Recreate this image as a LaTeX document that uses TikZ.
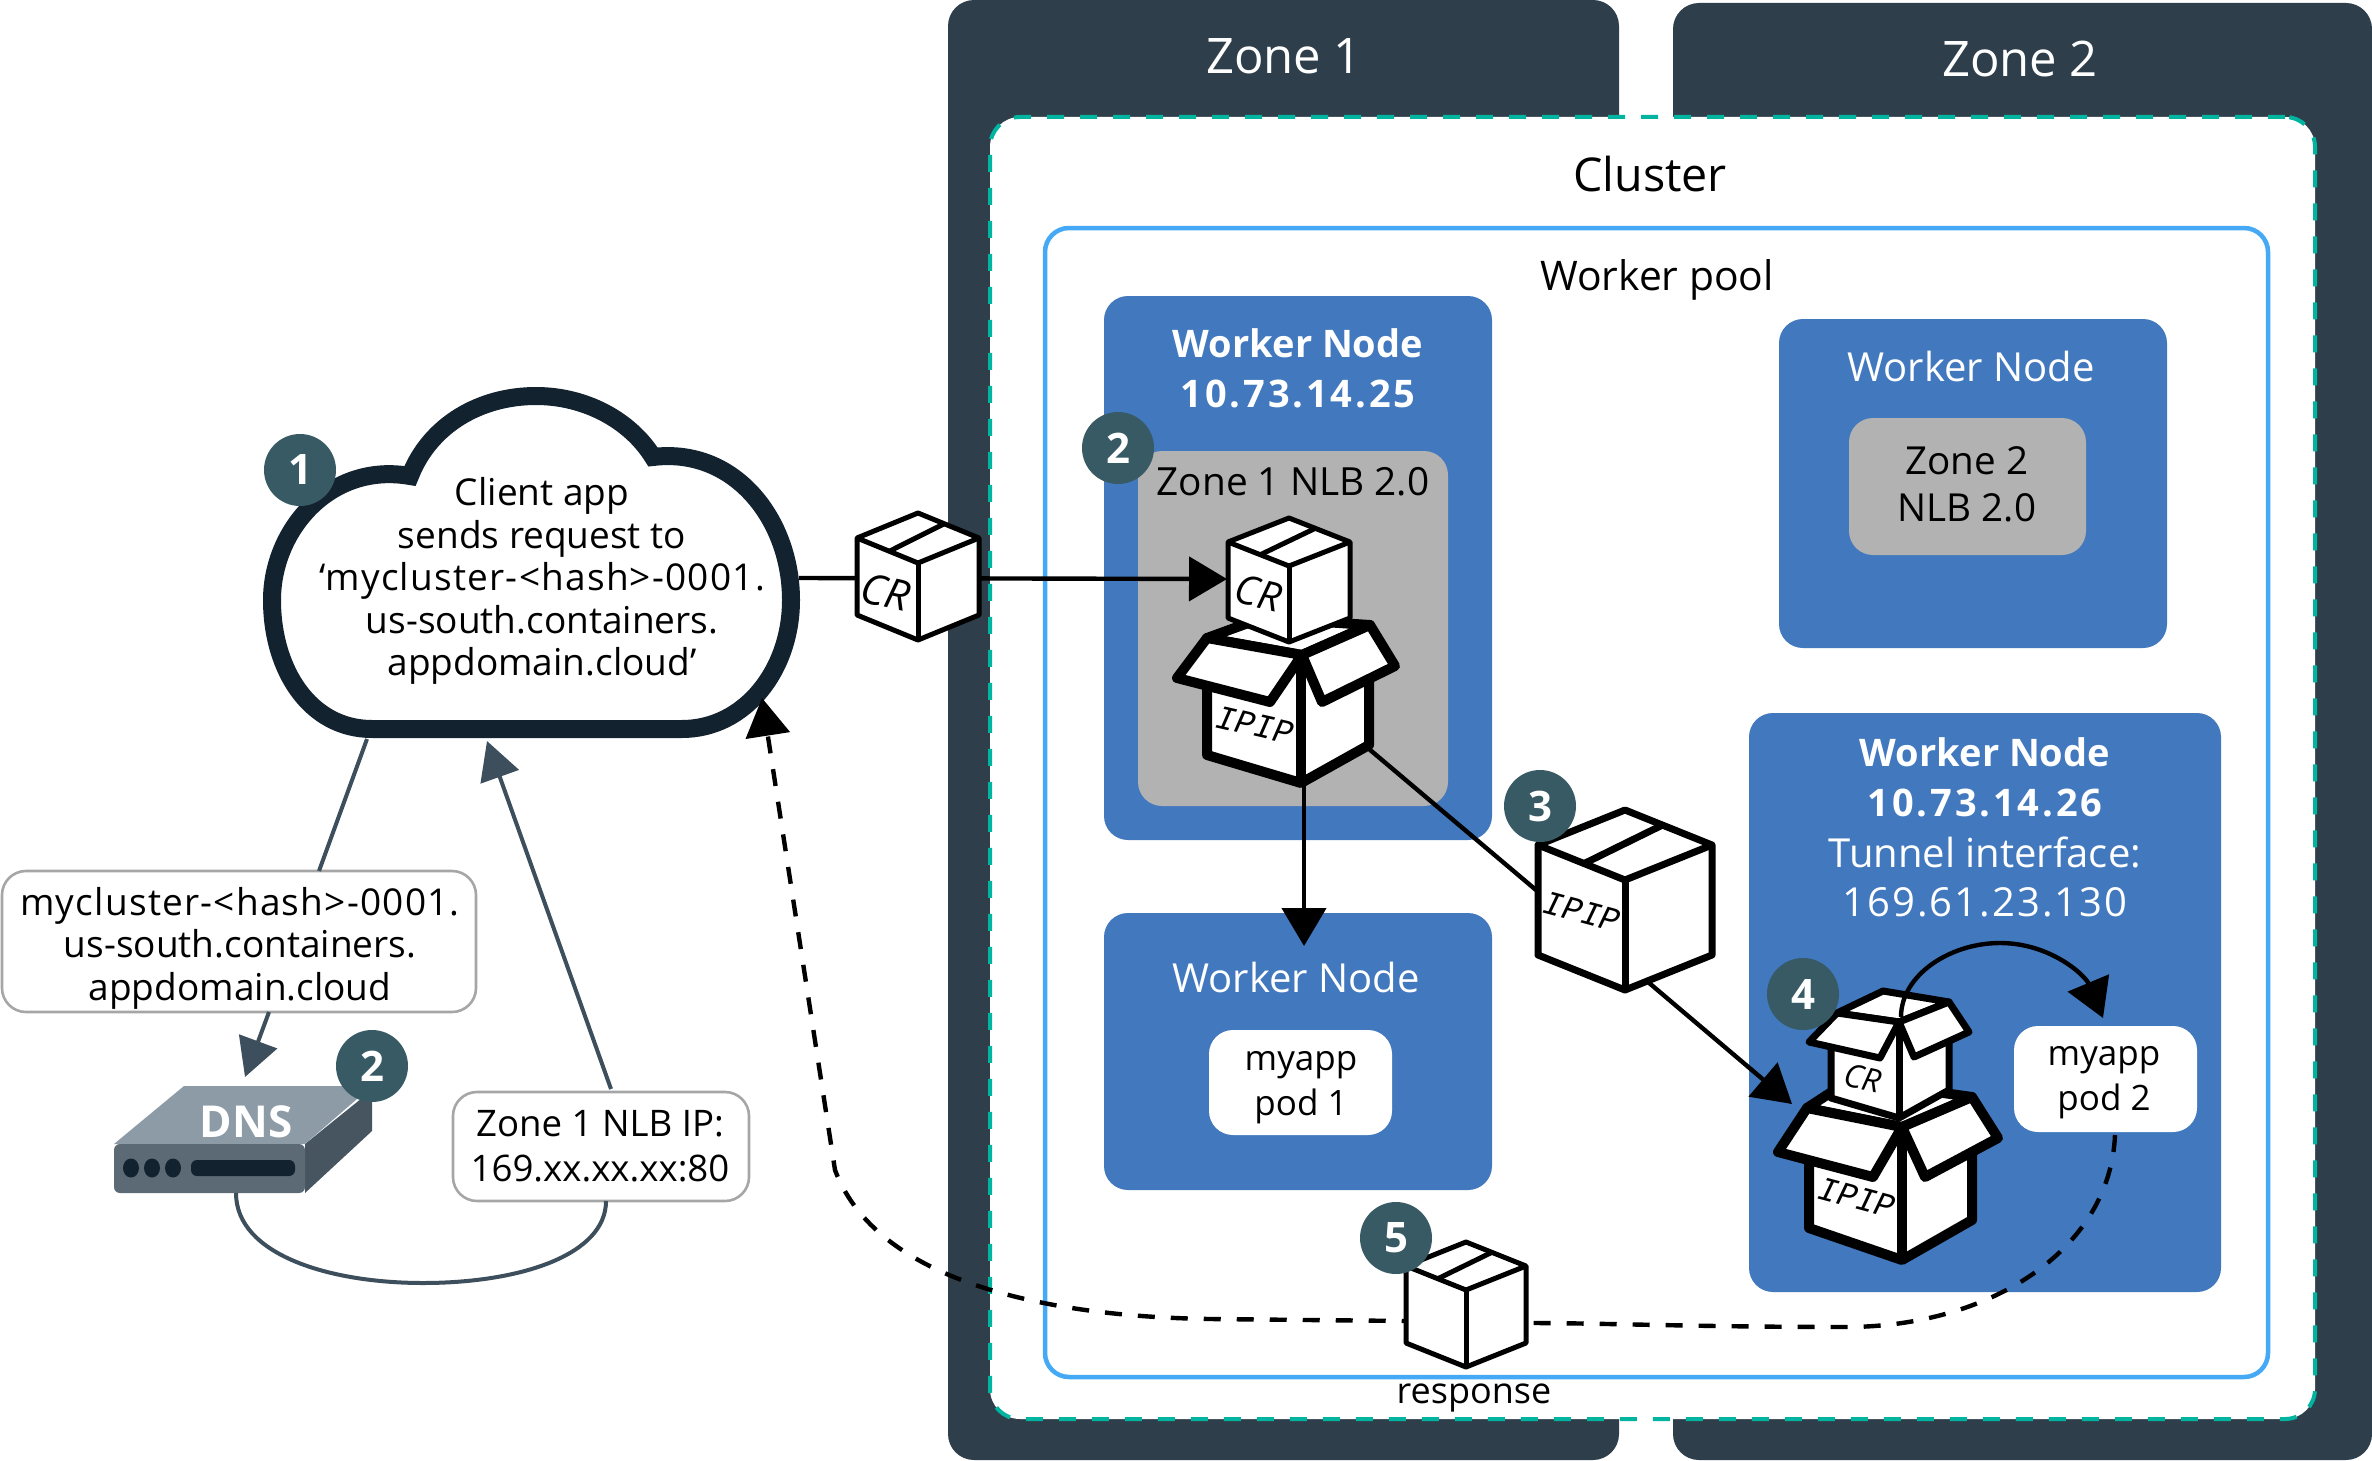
\documentclass[tikz,border=0pt]{standalone}
\usepackage{fontspec}
\setmainfont{Open Sans}
\newfontfamily\ipipfont{Liberation Mono}
\usetikzlibrary{arrows.meta}
\definecolor{zonec}{HTML}{2E3F4B}
\definecolor{tealc}{HTML}{00B4A0}
\definecolor{poolc}{HTML}{45A9F5}
\definecolor{wnc}{HTML}{4178BE}
\definecolor{greyc}{HTML}{B2B2B2}
\definecolor{badgec}{HTML}{385A64}
\definecolor{cloudc}{HTML}{13222F}
\definecolor{linkc}{HTML}{3D4F5C}
\definecolor{bubc}{HTML}{A6A6A6}
\definecolor{dnstop}{HTML}{8D9BA7}
\definecolor{dnsfront}{HTML}{5C6A75}
\definecolor{dnsside}{HTML}{46555F}
\newcommand\wide[1]{{\addfontfeature{LetterSpace=5}#1}}
\newcommand\wideb[1]{{\addfontfeature{LetterSpace=7.5}#1}}
\newcommand\slightly[1]{{\addfontfeature{LetterSpace=3.3}#1}}
\tikzset{
  x=0.5pt,y=-0.5pt,
  boxbase/.style={inner sep=0pt,outer sep=0pt,rounded corners=#1},
  zonebox/.style={boxbase=13pt,fill=zonec},
  clusterbox/.style={boxbase=15pt,fill=white,draw=tealc,line width=2pt,dash pattern=on 8.5pt off 8pt},
  poolbox/.style={boxbase=12pt,draw=poolc,line width=2.25pt,fill=white},
  wnbox/.style={boxbase=12pt,fill=wnc},
  nlbbox/.style={boxbase=12pt,fill=greyc},
  podbox/.style={boxbase=12pt,fill=white},
  bubble/.style={boxbase=12pt,fill=white,draw=bubc,line width=1.3pt},
  zonetxt/.style={text=white,font=\fontsize{24.5}{28}\selectfont,inner sep=0pt},
  bigtxt/.style={font=\fontsize{23.3}{26}\selectfont,inner sep=0pt},
  bodytxt/.style={align=center,font=\fontsize{18.5}{21.2}\selectfont,inner sep=0pt},
  podtxt/.style={align=center,font=\fontsize{17.5}{22.5}\selectfont,inner sep=0pt},
  wntxt/.style={align=center,text=white,font=\fontsize{20}{24.9}\selectfont,inner sep=0pt},
  wnbold/.style={align=center,text=white,font=\fontsize{19}{24.9}\selectfont\bfseries,inner sep=0pt},
  badge/.style={circle,fill=badgec,text=white,minimum size=36pt,inner sep=0pt,font=\fontsize{21}{24}\selectfont\bfseries},
  cubeline/.style={draw=black,fill=white,line join=round},
  flow/.style={draw=black,line width=2.2pt,-{Triangle[length=19pt,width=22pt]}},
  plainflow/.style={draw=black,line width=2.2pt},
  backflow/.style={draw=black,line width=2.2pt,dash pattern=on 8.5pt off 8pt},
  dnsflow/.style={draw=linkc,line width=2pt},
  crtxt/.style={inner sep=0pt},
}
% closed carton: name, top x, top y, half width, top depth, height, line width
\newcommand\carton[7]{%
  \coordinate (#1) at (#2,{#3+#5+#6/2});
  \path[cubeline,line width=#7] (#2,#3) -- ({#2+#4},{#3+#5}) -- ({#2+#4},{#3+#5+#6}) -- (#2,{#3+2*#5+#6}) -- ({#2-#4},{#3+#5+#6}) -- ({#2-#4},{#3+#5}) -- cycle;
  \draw[line width=#7,line join=round] ({#2-#4},{#3+#5}) -- (#2,{#3+2*#5}) -- ({#2+#4},{#3+#5});
  \draw[line width=#7] (#2,{#3+2*#5}) -- (#2,{#3+2*#5+#6});
  \draw[line width=#7] ({#2-0.47*#4},{#3+1.53*#5}) -- ({#2+0.43*#4},{#3+0.43*#5});
}
\newcommand\rbox[6]{\node[#1,minimum width={(#5-#3)*0.5pt},minimum height={(#6-#4)*0.5pt}] (#2) at ({(#3+#5)/2},{(#4+#6)/2}) {};}
\begin{document}
\begin{tikzpicture}
\useasboundingbox (0,0) rectangle (2372,1461);
\fill[white] (0,0) rectangle (2372,1461);
% zones, cluster, pool
\rbox{zonebox}{zoneA}{948}{0}{1619}{1460}
\rbox{zonebox}{zoneB}{1673}{3}{2372}{1460}
\rbox{clusterbox}{cluster}{990}{117}{2315}{1419}
\rbox{poolbox}{pool}{1045}{228}{2268}{1377}
\node[zonetxt] (zoneAt) at (1284,56) {Zone 1};
\node[zonetxt] (zoneBt) at (2020,59) {Zone 2};
\node[bigtxt] (clustert) at (1650,174) {Cluster};
\node[bigtxt,font=\fontsize{20.4}{24}\selectfont] (poolt) at (1657,280) {Worker pool};
% worker nodes
\rbox{wnbox}{wnA}{1104}{296}{1492}{840}
\rbox{nlbbox}{nlbA}{1138}{451}{1448}{806}
\rbox{wnbox}{wnB}{1779}{319}{2167}{648}
\rbox{nlbbox}{nlbB}{1849}{418}{2086}{555}
\rbox{wnbox}{wnC}{1749}{713}{2221}{1292}
\rbox{wnbox}{wnD}{1104}{913}{1492}{1190}
\rbox{podbox}{podA}{1209}{1030}{1392}{1135}
\rbox{podbox}{podB}{2014}{1026}{2197}{1132}
\node[wnbold] (wnAt) at (1298,368) {Worker Node\\\wideb{10.73.14.25}};
\node[bodytxt,font=\fontsize{19.4}{23}\selectfont] (nlbAt) at (1293,482) {Zone 1 NLB 2.0};
\node[wntxt] (wnBt) at (1971,366) {Worker Node};
\node[bodytxt,font=\fontsize{19.3}{23.5}\selectfont] (nlbBt) at (1967,484) {Zone 2\\NLB 2.0};
\node[wnbold] (wnCa) at (1985,777) {Worker Node\\\wideb{10.73.14.26}};
\node[wntxt] (wnCb) at (1985,877) {Tunnel interface:\\\wide{169.61.23.130}};
\node[wntxt] (wnDt) at (1296,977) {Worker Node};
\node[podtxt] (podAt) at (1301,1088) {myapp\\pod 1};
\node[podtxt] (podBt) at (2104,1083) {myapp\\pod 2};
% cloud
\draw[cloudc,fill=white,line width=9pt,line join=miter] (372,729) -- (682,729)
  .. controls (745,729) and (791,670) .. (791,600)
  .. controls (791,520) and (735,447) .. (653,457)
  .. controls (630,420) and (585,396) .. (536,396)
  .. controls (480,396) and (430,425) .. (410,476)
  .. controls (330,462) and (272,530) .. (272,600)
  .. controls (272,670) and (310,729) .. (372,729) -- cycle;
\node[bodytxt] (cloudt) at (542,581) {Client app\\sends request to\\\slightly{‘mycluster-<hash>-0001.}\\us-south.containers.\\appdomain.cloud’};
% left side
\rbox{bubble}{hostb}{2}{871}{476}{1012}
\node[bodytxt] (hostt) at (240,948) {\slightly{mycluster-<hash>-0001.}\\us-south.containers.\\appdomain.cloud};
\rbox{bubble}{ipb}{453}{1092}{749}{1201}
\node[bodytxt,font=\fontsize{18.3}{22.5}\selectfont] (ipt) at (600,1146) {Zone 1 NLB IP:\\169.xx.xx.xx:80};
% DNS device
\coordinate (dns) at (245,1145);
\fill[dnsside] (305,1144) -- (372,1090) -- (372,1131) -- (305,1193) -- cycle;
\fill[dnstop] (184,1086) -- (372,1086) -- (305,1144) -- (114,1144) -- cycle;
\fill[dnsfront,rounded corners=3pt] (114,1144) -- (305,1144) -- (305,1193) -- (114,1193) -- cycle;
\fill[dnsfront] (114,1150) -- (120,1144) -- (130,1144) -- (130,1160) -- (114,1160) -- cycle;
\fill[cloudc] (131,1168) ellipse [x radius=8,y radius=9.5];
\fill[cloudc] (152,1168) ellipse [x radius=8,y radius=9.5];
\fill[cloudc] (173,1168) ellipse [x radius=8,y radius=9.5];
\fill[cloudc,rounded corners=3pt] (191,1160) rectangle (295,1176);
\node[text=white,inner sep=0pt,font=\fontsize{22}{26}\selectfont\bfseries] (dnst) at (246,1122) {DNS};
% left connectors
\coordinate (cloudS) at (367,739);
\coordinate (hostN) at (319,871);
\coordinate (hostS) at (269,1012);
\coordinate (dnsN) at (245,1077);
\coordinate (dnsS) at (236,1193);
\coordinate (ipS) at (606,1201);
\coordinate (ipN) at (611,1089);
\coordinate (cloudB) at (487,741);
\draw[dnsflow] (cloudS) -- (hostN);
\draw[dnsflow,-{Triangle[length=19pt,width=20pt]},fill=linkc] (hostS) -- (dnsN);
\draw[dnsflow] (dnsS) .. controls (236,1255) and (330,1283) .. (423,1283) .. controls (520,1283) and (606,1255) .. (ipS);
\draw[dnsflow,-{Triangle[length=19pt,width=20pt]},fill=linkc] (ipN) -- (cloudB);
% flows
\coordinate (cloudE) at (799,578);
\coordinate (crIn) at (1227,579);
\coordinate (ipipS) at (1304,783);
\coordinate (podN) at (1304,946);
\coordinate (ipipE) at (1369,749);
\coordinate (midW) at (1536,890);
\coordinate (midS) at (1648,982);
\coordinate (ipipIn) at (1792,1104);
\coordinate (crTop) at (1901,1017);
\coordinate (podBN) at (2103,1018);
\coordinate (podBS) at (2115,1135);
\coordinate (cloudR) at (762,698);
\draw[flow] (cloudE) -- (crIn);
\draw[flow] (ipipS) -- (podN);
\draw[plainflow] (ipipE) -- (midW);
\draw[flow] (midS) -- (ipipIn);
\draw[backflow,-{Triangle[length=19pt,width=22pt]}] (podBS) .. controls (2110,1250) and (1990,1327) .. (1846,1327) .. controls (1700,1327) and (1600,1323) .. (1528,1323) -- (1406,1321) -- (1210,1319) .. controls (1070,1317) and (880,1290) .. (835,1170) -- (cloudR);
% open carton IPIP in zone 1
\begin{scope}[line width=5pt,line join=round]
\path[cubeline] (1207,638) -- (1262,618) -- (1370,625) -- (1302,655) -- cycle;
\path[cubeline] (1207,680) -- (1301,655) -- (1369,680) -- (1369,745) -- (1301,783) -- (1207,755) -- cycle;
\draw (1301,660) -- (1301,783);
\path[cubeline] (1302,655) -- (1207,638) -- (1177,678) -- (1270,702) -- cycle;
\path[cubeline] (1302,655) -- (1370,625) -- (1395,666) -- (1322,702) -- cycle;
\end{scope}
\node[inner sep=0pt,rotate=-13,font=\ipipfont\itshape\fontsize{17}{20}\selectfont] (ipipA) at (1255,725) {\scalebox{0.95}[1]{IPIP}};
\carton{crA}{1289}{518}{61}{24}{76}{2.5pt}
\node[crtxt,rotate=-13,font=\itshape\fontsize{20}{22}\selectfont] (crAt) at (1258,593) {CR};
% carton on the line
\carton{crB}{918}{513}{61}{25}{77}{2.5pt}
\node[crtxt,rotate=-13,font=\itshape\fontsize{21}{22}\selectfont] (crBt) at (886,592) {CR};
% carton 3
\carton{ipipB}{1625}{810}{87}{35}{110}{3.5pt}
\node[inner sep=0pt,rotate=-15,font=\ipipfont\itshape\fontsize{17}{20}\selectfont] (ipipBt) at (1582,912) {\scalebox{0.95}[1]{IPIP}};
% carton 5
\carton{resp}{1466}{1242}{60}{24}{77}{2.5pt}
\node[bodytxt,font=\fontsize{18}{21}\selectfont] (respt) at (1474,1398) {response};
% open cartons zone 2
\begin{scope}[line width=5pt,line join=round]
\path[cubeline] (1807,1108) -- (1850,1080) -- (1972,1097) -- (1902,1127) -- cycle;
\path[cubeline] (1809,1150) -- (1902,1127) -- (1972,1145) -- (1972,1220) -- (1902,1260) -- (1809,1228) -- cycle;
\draw (1902,1130) -- (1902,1260);
\path[cubeline] (1902,1127) -- (1807,1108) -- (1778,1152) -- (1873,1177) -- cycle;
\path[cubeline] (1902,1127) -- (1972,1097) -- (1998,1138) -- (1925,1177) -- cycle;
\end{scope}
\node[inner sep=0pt,rotate=-15,font=\ipipfont\itshape\fontsize{17}{20}\selectfont] (ipipC) at (1857,1198) {\scalebox{0.95}[1]{IPIP}};
\begin{scope}[line width=3.5pt,line join=round]
\path[cubeline] (1837,1013) -- (1883,991) -- (1949,1002) -- (1899,1022) -- cycle;
\path[cubeline] (1831,1040) -- (1899,1022) -- (1949,1035) -- (1949,1090) -- (1899,1118) -- (1831,1098) -- cycle;
\draw (1899,1022) -- (1899,1118);
\path[cubeline] (1899,1022) -- (1837,1013) -- (1809,1042) -- (1880,1058) -- cycle;
\path[cubeline] (1899,1022) -- (1949,1002) -- (1969,1032) -- (1914,1057) -- cycle;
\end{scope}
\node[crtxt,rotate=-12,font=\itshape\fontsize{16}{18}\selectfont] (crCt) at (1863,1078) {CR};
\draw[flow] (crTop) .. controls (1901,975) and (1950,943) .. (2000,943) .. controls (2050,943) and (2085,975) .. (podBN);
% badges
\node[badge] (bA) at (300,470) {1};
\node[badge] (bB) at (372,1066) {2};
\node[badge] (bC) at (1118,448) {2};
\node[badge] (bD) at (1540,806) {3};
\node[badge] (bE) at (1803,994) {4};
\node[badge] (bF) at (1396,1238) {5};
\end{tikzpicture}
\end{document}
